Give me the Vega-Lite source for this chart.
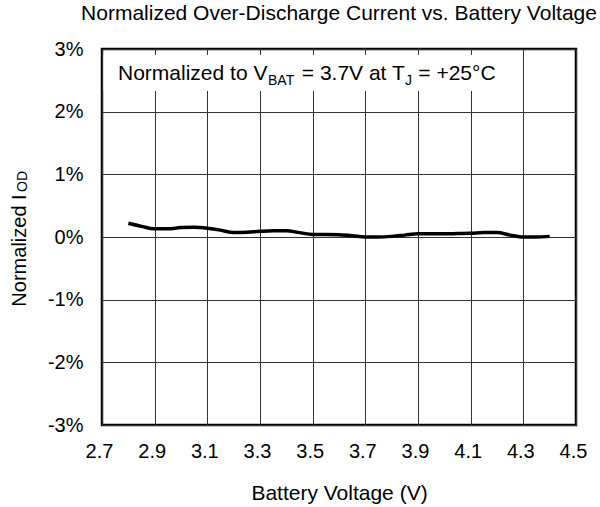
{
  "$schema": "https://vega.github.io/schema/vega-lite/v6.json",
  "autosize": {"type": "none"},
  "padding": {"left": 102, "top": 49, "right": 24, "bottom": 82},
  "width": 474,
  "height": 376,
  "background": "white",
  "config": {
    "font": "Liberation Sans",
    "view": {"stroke": "black", "strokeWidth": 2.5}
  },
  "title": {
    "text": "Normalized Over-Discharge Current vs. Battery Voltage",
    "anchor": "middle",
    "frame": "group",
    "baseline": "alphabetic",
    "offset": -2,
    "fontSize": 21,
    "fontWeight": "normal",
    "color": "black",
    "font": "Liberation Sans"
  },
  "datasets": {
    "curve": [
      {"v": 2.8, "iod": 0.22},
      {"v": 2.85, "iod": 0.17},
      {"v": 2.9, "iod": 0.13},
      {"v": 2.95, "iod": 0.13},
      {"v": 3.0, "iod": 0.15},
      {"v": 3.05, "iod": 0.155},
      {"v": 3.1, "iod": 0.14},
      {"v": 3.15, "iod": 0.11},
      {"v": 3.2, "iod": 0.07},
      {"v": 3.25, "iod": 0.075},
      {"v": 3.3, "iod": 0.09},
      {"v": 3.35, "iod": 0.1},
      {"v": 3.4, "iod": 0.1},
      {"v": 3.45, "iod": 0.07},
      {"v": 3.5, "iod": 0.04},
      {"v": 3.55, "iod": 0.04},
      {"v": 3.6, "iod": 0.035},
      {"v": 3.65, "iod": 0.02},
      {"v": 3.7, "iod": 0.0},
      {"v": 3.75, "iod": 0.0},
      {"v": 3.8, "iod": 0.01},
      {"v": 3.85, "iod": 0.03},
      {"v": 3.9, "iod": 0.05},
      {"v": 3.95, "iod": 0.05},
      {"v": 4.0, "iod": 0.05},
      {"v": 4.05, "iod": 0.055},
      {"v": 4.1, "iod": 0.06},
      {"v": 4.15, "iod": 0.07},
      {"v": 4.2, "iod": 0.07},
      {"v": 4.25, "iod": 0.03},
      {"v": 4.3, "iod": 0.0},
      {"v": 4.35, "iod": 0.0},
      {"v": 4.4, "iod": 0.01}
    ],
    "one": [{"k": 1}]
  },
  "layer": [
    {
      "data": {"name": "curve"},
      "mark": {"type": "line", "color": "black", "strokeWidth": 3.5, "interpolate": "monotone"},
      "encoding": {
        "x": {
          "field": "v",
          "type": "quantitative",
          "title": "Battery Voltage (V)",
          "scale": {"domain": [2.7, 4.5], "nice": false, "zero": false},
          "axis": {
            "values": [2.7, 2.9, 3.1, 3.3, 3.5, 3.7, 3.9, 4.1, 4.3, 4.5],
            "format": ".1f",
            "grid": true,
            "gridColor": "#333",
            "gridWidth": 1,
            "ticks": false,
            "domain": false,
            "labelFontSize": 20,
            "labelColor": "black",
            "labelPadding": 16,
            "labelOffset": -3,
            "labelFlush": false,
            "labelOverlap": false,
            "labelBound": false,
            "titleFontSize": 21,
            "titleFontWeight": "normal",
            "titleColor": "black",
            "titleBaseline": "alphabetic",
            "titleY": 74
          }
        },
        "y": {
          "field": "iod",
          "type": "quantitative",
          "title": "Normalized I",
          "scale": {"domain": [-3, 3], "nice": false, "zero": false},
          "axis": {
            "values": [-3, -2, -1, 0, 1, 2, 3],
            "labelExpr": "datum.value + '%'",
            "grid": true,
            "gridColor": "#333",
            "gridWidth": 1,
            "ticks": false,
            "domain": false,
            "labelFontSize": 20,
            "labelColor": "black",
            "labelPadding": 19,
            "labelOverlap": false,
            "labelFlush": false,
            "titleFontSize": 20,
            "titleFontWeight": "normal",
            "titleColor": "black",
            "titleAngle": 270,
            "titleAlign": "center",
            "titleBaseline": "alphabetic",
            "titleX": -77,
            "titleY": 201
          }
        }
      }
    },
    {
      "data": {"name": "one"},
      "mark": {"type": "rect", "fill": "white"},
      "encoding": {
        "x": {"datum": 2.706, "type": "quantitative", "title": "Battery Voltage (V)"},
        "x2": {"datum": 4.211},
        "y": {"datum": 2.904, "type": "quantitative", "title": "Normalized I"},
        "y2": {"datum": 2.33}
      }
    },
    {
      "data": {"name": "one"},
      "mark": {"type": "text", "fontSize": 21, "align": "left", "baseline": "alphabetic", "color": "black"},
      "encoding": {
        "x": {"datum": 2.7608, "type": "quantitative", "title": "Battery Voltage (V)"},
        "y": {"datum": 2.505, "type": "quantitative", "title": "Normalized I"},
        "text": {"value": "Normalized to V"}
      }
    },
    {
      "data": {"name": "one"},
      "mark": {"type": "text", "fontSize": 14, "align": "left", "baseline": "alphabetic", "color": "black"},
      "encoding": {
        "x": {"datum": 3.3304, "type": "quantitative", "title": "Battery Voltage (V)"},
        "y": {"datum": 2.425, "type": "quantitative", "title": "Normalized I"},
        "text": {"value": "BAT"}
      }
    },
    {
      "data": {"name": "one"},
      "mark": {"type": "text", "fontSize": 21, "align": "left", "baseline": "alphabetic", "color": "black"},
      "encoding": {
        "x": {"datum": 3.4587, "type": "quantitative", "title": "Battery Voltage (V)"},
        "y": {"datum": 2.505, "type": "quantitative", "title": "Normalized I"},
        "text": {"value": "= 3.7V at T"}
      }
    },
    {
      "data": {"name": "one"},
      "mark": {"type": "text", "fontSize": 14, "align": "left", "baseline": "alphabetic", "color": "black"},
      "encoding": {
        "x": {"datum": 3.8506, "type": "quantitative", "title": "Battery Voltage (V)"},
        "y": {"datum": 2.425, "type": "quantitative", "title": "Normalized I"},
        "text": {"value": "J"}
      }
    },
    {
      "data": {"name": "one"},
      "mark": {"type": "text", "fontSize": 21, "align": "left", "baseline": "alphabetic", "color": "black"},
      "encoding": {
        "x": {"datum": 3.9011, "type": "quantitative", "title": "Battery Voltage (V)"},
        "y": {"datum": 2.505, "type": "quantitative", "title": "Normalized I"},
        "text": {"value": "= +25°C"}
      }
    },
    {
      "data": {"name": "one"},
      "mark": {"type": "text", "fontSize": 14, "align": "left", "baseline": "alphabetic", "angle": 270, "color": "black"},
      "encoding": {
        "x": {"datum": 2.415, "type": "quantitative", "title": "Battery Voltage (V)"},
        "y": {"datum": 0.718, "type": "quantitative", "title": "Normalized I"},
        "text": {"value": "OD"}
      }
    }
  ]
}
